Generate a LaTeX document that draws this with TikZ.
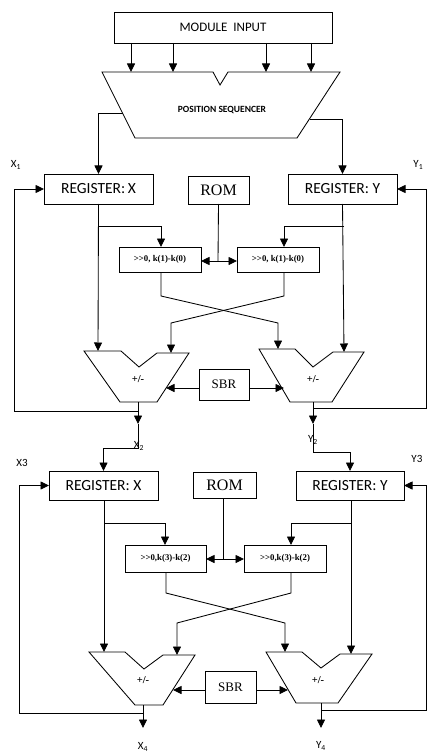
\documentclass[tikz,border=0pt]{standalone}
\usepackage{fontspec}
\setmainfont{Liberation Serif}
\newfontfamily\carl{Carlito}
\usetikzlibrary{arrows.meta}
\begin{document}
\begin{tikzpicture}[x=1pt,y=-1pt,line width=0.85pt,
  tip/.tip={Triangle[length=8.5pt,width=8pt]},
  arr/.style={-tip},
  dbl/.style={tip-tip},
  blk/.style={draw,inner sep=0pt,outer sep=0pt},
  regtxt/.style={font=\carl\fontsize{15.5}{16}\selectfont},
  romtxt/.style={font=\fontsize{16}{17}\selectfont},
  sbrtxt/.style={font=\fontsize{13}{14}\selectfont},
  shtxt/.style={font=\bfseries\fontsize{8.8}{9}\selectfont},
  pmtxt/.style={font=\bfseries\fontsize{10.5}{11}\selectfont},
  lbl/.style={font=\carl\fontsize{11}{12}\selectfont,inner sep=0pt}]
\useasboundingbox (0,0) rectangle (426,754);

% ---------- input and sequencer ----------
\node[blk,minimum width=218pt,minimum height=31pt,font=\carl\fontsize{13}{14}\selectfont] (inp) at (223,27.5) {MODULE\ \ INPUT};
\draw (102,72) coordinate (sq1) -- (213,72) -- (220,85) -- (228,72) -- (340,72) coordinate (sq2)
      -- (297,138) coordinate (sq3) -- (135,138) coordinate (sq4) -- cycle;
\node[font=\carl\bfseries\fontsize{9.5}{10}\selectfont] (seq) at (222,110) {POSITION SEQUENCER};
\foreach \xx in {131,173,266,311}
  \draw[arr] (\xx,43) -- (\xx,72);

% ---------- stage 1 ----------
\node[blk,minimum width=109pt,minimum height=30pt,regtxt] (rx1) at (98.5,189) {REGISTER:\,X};
\node[blk,minimum width=61pt,minimum height=28pt,romtxt] (rom1) at (218.5,190) {ROM};
\node[blk,minimum width=109pt,minimum height=30pt,regtxt] (ry1) at (342.5,189) {REGISTER: Y};
\node[blk,minimum width=82pt,minimum height=25pt,shtxt] (sl1) at (160,259.5) {>{}>0, k(1)-k(0)};
\node[blk,minimum width=82pt,minimum height=25pt,shtxt] (sr1) at (278,259.5) {>{}>0, k(1)-k(0)};
\node[blk,minimum width=50pt,minimum height=31pt,sbrtxt] (sbr1) at (224,384.5) {SBR};

\draw (84,351) -- (121,351) -- (139,367) -- (157,353) -- (189,353) -- (157,402) -- (120,402) -- cycle;
\draw (259,349) -- (295,349) -- (313,367) -- (333,352) -- (364,352) -- (332,402) -- (290,402) -- cycle;
\node[pmtxt] (pl1) at (138,379) {+/-};
\node[pmtxt] (pr1) at (313,379) {+/-};
\coordinate (ol1) at (138,402);
\coordinate (or1) at (313,402);

\node[lbl] (x1) at (16,165) {X\textsubscript{1}};
\node[lbl,anchor=west] (y1) at (413,165) {Y\textsubscript{1}};

% sequencer to registers
\draw[arr] (122.5,113) -| (rx1.north);
\draw[arr] (309.5,119) -| (ry1.north);

% register X paths
\draw[arr] (rx1.south) -- (98,351);
\draw[arr] (98,226) -| (161,247);
% register Y paths
\draw[arr] (ry1.south) -- (344,352);
\draw[arr] (344,226) -| (284,247);
% ROM distribution
\coordinate (j1) at (218,261);
\draw (rom1.south) -- (j1);
\draw[arr] (j1) -- (j1 -| sl1.east);
\draw[arr] (j1) -- (j1 -| sr1.west);
% crossing
\draw[arr] (161,272) -- (161,296) -- (278,323) -- (278,349);
\draw[arr] (284,272) -- (284,296) -- (171,323) -- (171,353);
% SBR
\draw[arr] (sbr1.west |- 0,388) -- (166,388);
\draw[arr] (sbr1.east |- 0,388) -- (284,388);
% outputs and feedback
\coordinate (a1) at (138,424);
\coordinate (b1) at (313,424);
\draw[arr] (ol1) -- (a1);
\draw[arr] (or1) -- (b1);
\draw[arr] (138,411) -- (14,411) |- (rx1.west);
\draw[arr] (313,408) -- (426,408) |- (ry1.east);

% ---------- stage 2 ----------
\node[blk,minimum width=109pt,minimum height=29pt,regtxt] (rx2) at (103.5,485.5) {REGISTER: X};
\node[blk,minimum width=63pt,minimum height=26pt,romtxt] (rom2) at (224.5,485) {ROM};
\node[blk,minimum width=108pt,minimum height=29pt,regtxt] (ry2) at (350,485.5) {REGISTER: Y};
\node[blk,minimum width=81pt,minimum height=27pt,shtxt] (sl2) at (165.5,558.5) {>{}>0,k(3)-k(2)};
\node[blk,minimum width=82pt,minimum height=27pt,shtxt] (sr2) at (285,558.5) {>{}>0,k(3)-k(2)};
\node[blk,minimum width=51pt,minimum height=32pt,sbrtxt] (sbr2) at (230.5,687) {SBR};

\draw (89,652) -- (125,652) -- (144,669) -- (163,655) -- (195,655) -- (163,705) -- (135,705) -- cycle;
\draw (266,652) -- (302,652) -- (321,668) -- (340,654) -- (372,654) -- (338,703) -- (296,703) -- cycle;
\node[pmtxt] (pl2) at (143,680) {+/-};
\node[pmtxt] (pr2) at (318,680) {+/-};
\coordinate (ol2) at (143,705);
\coordinate (or2) at (321,703);

\node[lbl] (x2) at (139,446) {X\textsubscript{2}};
\node[lbl] (y2) at (313,440) {Y\textsubscript{2}};
\node[lbl] (x3) at (22,463) {X3};
\node[lbl,anchor=west] (y3) at (411,459) {Y3};

% stage 1 outputs into stage 2 registers
\draw[arr] (a1) -- (138,448) -| (rx2.north);
\draw[arr] (b1) -- (313,452) -| (ry2.north);

% register X paths
\draw[arr] (rx2.south -| 104,0) -- (104,652);
\draw[arr] (104,523) -| (165,545);
% register Y paths
\draw[arr] (ry2.south -| 351,0) -- (351,654);
\draw[arr] (351,523) -| (291,545);
% ROM distribution
\coordinate (j2) at (223,559);
\draw (rom2.south -| j2) -- (j2);
\draw[arr] (j2) -- (j2 -| sl2.east);
\draw[arr] (j2) -- (j2 -| sr2.west);
% crossing
\draw[arr] (166,572) -- (166,593) -- (285,623) -- (285,652);
\draw[arr] (291,572) -- (291,593) -- (177,623) -- (177,655);
% SBR
\draw[arr] (sbr2.west |- 0,690) -- (173,690);
\draw[arr] (sbr2.east |- 0,690) -- (288,690);
% outputs and feedback
\draw[arr] (ol2) -- (143,728);
\draw[arr] (or2) -- (321,728);
\draw[arr] (143,713) -- (19,713) |- (rx2.west);
\draw[arr] (321,710) -- (426,710) |- (ry2.east);

\node[lbl] (x4) at (143,747) {X\textsubscript{4}};
\node[lbl] (y4) at (321,746) {Y\textsubscript{4}};
\end{tikzpicture}
\end{document}
